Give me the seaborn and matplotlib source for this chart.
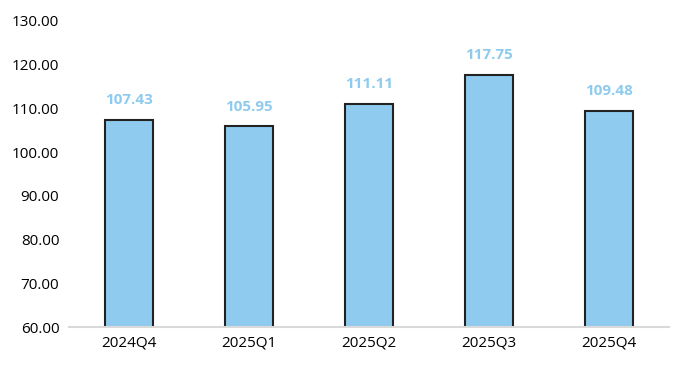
import numpy as np
import pandas as pd
import matplotlib
matplotlib.use("Agg")
import matplotlib.pyplot as plt
import seaborn as sns
from matplotlib.ticker import FormatStrFormatter

# dữ liệu
quarters = ['2024Q4', '2025Q1', '2025Q2', '2025Q3', '2025Q4']
values = [107.43, 105.95, 111.11, 117.75, 109.48]

bar_color = '#8ECBEF'
label_color = '#8ECBEF'

sns.set_theme(style='white')
plt.rcParams['font.family'] = ['Open Sans', 'DejaVu Sans']

df = pd.DataFrame({'quarter': quarters, 'value': values})

fig = plt.figure(figsize=(6.78, 3.65), dpi=100)
ax = fig.add_axes([0.1018, 0.1041, 0.885, 0.8384])

sns.barplot(data=df, x='quarter', y='value', color=bar_color, width=0.4,
            edgecolor='#222222', linewidth=1.5, saturation=1, ax=ax)

# nhãn giá trị
for i, v in enumerate(values):
    ax.annotate(f'{v:.2f}', (i, v), xytext=(0, 9), textcoords='offset points',
                ha='center', va='bottom', color=label_color,
                fontsize=11, fontweight='bold')

ax.set_ylim(60, 130)
ax.set_xlim(-0.5, 4.5)
ax.set_yticks(np.arange(60, 131, 10))
ax.yaxis.set_major_formatter(FormatStrFormatter('%.2f'))
ax.set_xlabel('')
ax.set_ylabel('')
ax.tick_params(axis='both', length=0, labelsize=11, colors='#000000')
ax.tick_params(axis='y', pad=7)
ax.tick_params(axis='x', pad=6)

for s in ['left', 'right', 'top']:
    ax.spines[s].set_visible(False)
ax.spines['bottom'].set_color('#D9D9D9')
ax.spines['bottom'].set_linewidth(1.5)

fig.savefig('out.png', dpi=100)
